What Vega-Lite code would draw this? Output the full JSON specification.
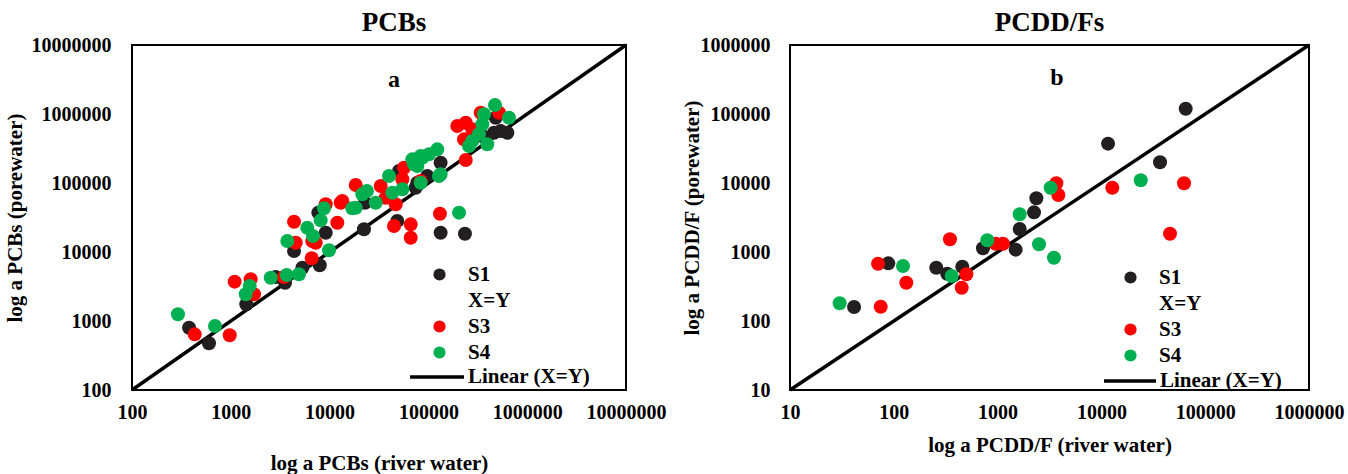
{
  "$schema": "https://vega.github.io/schema/vega-lite/v6.json",
  "background": "white",
  "padding": {"left": 3, "top": 8, "right": 0, "bottom": 0},
  "spacing": 13,
  "config": {
    "font": "Liberation Serif",
    "view": {"stroke": "black", "strokeWidth": 2},
    "axis": {"labelFont": "Liberation Serif", "labelFontWeight": "bold", "labelFontSize": 20, "labelColor": "black", "titleFont": "Liberation Serif", "titleFontWeight": "bold", "titleFontSize": 21, "titleColor": "black", "ticks": false, "domain": false, "grid": false, "labelFlush": false, "labelOverlap": false},
    "title": {"font": "Liberation Serif", "fontSize": 27, "fontWeight": "bold", "color": "black", "offset": -2},
    "legend": {"labelFont": "Liberation Serif", "labelFontSize": 21, "labelFontWeight": "bold", "labelColor": "black", "title": null}
  },
  "resolve": {"scale": {"color": "independent", "stroke": "independent"}, "legend": {"color": "independent", "stroke": "independent"}},
  "datasets": {
    "pcb": [
      {"x": 378, "y": 800, "s": "S1"}, {"x": 601, "y": 475, "s": "S1"}, {"x": 1435, "y": 1746, "s": "S1"}, {"x": 2844, "y": 4345, "s": "S1"}, {"x": 3540, "y": 3589, "s": "S1"}, {"x": 5300, "y": 5916, "s": "S1"}, {"x": 7943, "y": 6412, "s": "S1"}, {"x": 4365, "y": 10330, "s": "S1"}, {"x": 9140, "y": 19050, "s": "S1"}, {"x": 7690, "y": 37150, "s": "S1"}, {"x": 22280, "y": 21330, "s": "S1"}, {"x": 48420, "y": 28120, "s": "S1"}, {"x": 22800, "y": 51760, "s": "S1"}, {"x": 50350, "y": 149300, "s": "S1"}, {"x": 133000, "y": 196800, "s": "S1"}, {"x": 77270, "y": 100900, "s": "S1"}, {"x": 74300, "y": 85500, "s": "S1"}, {"x": 133000, "y": 19050, "s": "S1"}, {"x": 234400, "y": 18400, "s": "S1"}, {"x": 461300, "y": 535800, "s": "S1"}, {"x": 539500, "y": 567500, "s": "S1"}, {"x": 629500, "y": 535800, "s": "S1"}, {"x": 479700, "y": 883100, "s": "S1"}, {"x": 97500, "y": 126200, "s": "S1"}, {"x": 351600, "y": 479700, "s": "S1"},
      {"x": 431, "y": 641, "s": "S3"}, {"x": 975, "y": 621, "s": "S3"}, {"x": 1094, "y": 3715, "s": "S3"}, {"x": 1589, "y": 4018, "s": "S3"}, {"x": 1718, "y": 2438, "s": "S3"}, {"x": 3451, "y": 4345, "s": "S3"}, {"x": 6590, "y": 8110, "s": "S3"}, {"x": 4365, "y": 27480, "s": "S3"}, {"x": 4540, "y": 13650, "s": "S3"}, {"x": 7230, "y": 13650, "s": "S3"}, {"x": 6680, "y": 14430, "s": "S3"}, {"x": 9140, "y": 49100, "s": "S3"}, {"x": 11970, "y": 26600, "s": "S3"}, {"x": 12950, "y": 51760, "s": "S3"}, {"x": 13450, "y": 54800, "s": "S3"}, {"x": 18370, "y": 93550, "s": "S3"}, {"x": 32890, "y": 90550, "s": "S3"}, {"x": 36960, "y": 61240, "s": "S3"}, {"x": 46670, "y": 49100, "s": "S3"}, {"x": 56620, "y": 166700, "s": "S3"}, {"x": 44870, "y": 23820, "s": "S3"}, {"x": 66220, "y": 25180, "s": "S3"}, {"x": 66220, "y": 16110, "s": "S3"}, {"x": 130900, "y": 35890, "s": "S3"}, {"x": 54450, "y": 113200, "s": "S3"}, {"x": 83560, "y": 106900, "s": "S3"}, {"x": 196300, "y": 669900, "s": "S3"}, {"x": 238800, "y": 748200, "s": "S3"}, {"x": 229300, "y": 429500, "s": "S3"}, {"x": 338200, "y": 1045000, "s": "S3"}, {"x": 518800, "y": 1045000, "s": "S3"}, {"x": 238800, "y": 215300, "s": "S3"}, {"x": 278000, "y": 599800, "s": "S3"},
      {"x": 292, "y": 1250, "s": "S4"}, {"x": 692, "y": 847, "s": "S4"}, {"x": 1552, "y": 3215, "s": "S4"}, {"x": 1416, "y": 2438, "s": "S4"}, {"x": 2535, "y": 4245, "s": "S4"}, {"x": 3681, "y": 4645, "s": "S4"}, {"x": 4898, "y": 4753, "s": "S4"}, {"x": 9863, "y": 10590, "s": "S4"}, {"x": 3733, "y": 14430, "s": "S4"}, {"x": 5945, "y": 22490, "s": "S4"}, {"x": 6790, "y": 17060, "s": "S4"}, {"x": 8128, "y": 28770, "s": "S4"}, {"x": 8770, "y": 42950, "s": "S4"}, {"x": 16980, "y": 42950, "s": "S4"}, {"x": 21430, "y": 68550, "s": "S4"}, {"x": 18370, "y": 43850, "s": "S4"}, {"x": 29300, "y": 51760, "s": "S4"}, {"x": 23880, "y": 76560, "s": "S4"}, {"x": 39910, "y": 126200, "s": "S4"}, {"x": 43150, "y": 72270, "s": "S4"}, {"x": 68710, "y": 220300, "s": "S4"}, {"x": 77270, "y": 176200, "s": "S4"}, {"x": 83560, "y": 246000, "s": "S4"}, {"x": 101400, "y": 260600, "s": "S4"}, {"x": 123000, "y": 307600, "s": "S4"}, {"x": 133000, "y": 133600, "s": "S4"}, {"x": 83560, "y": 100900, "s": "S4"}, {"x": 54450, "y": 81100, "s": "S4"}, {"x": 71450, "y": 186600, "s": "S4"}, {"x": 86700, "y": 232800, "s": "S4"}, {"x": 127900, "y": 126200, "s": "S4"}, {"x": 204200, "y": 37150, "s": "S4"}, {"x": 472100, "y": 1349000, "s": "S4"}, {"x": 654600, "y": 883100, "s": "S4"}, {"x": 365600, "y": 990800, "s": "S4"}, {"x": 351600, "y": 709300, "s": "S4"}, {"x": 325100, "y": 508200, "s": "S4"}, {"x": 278000, "y": 406400, "s": "S4"}, {"x": 257600, "y": 343600, "s": "S4"}, {"x": 394500, "y": 363900, "s": "S4"}
    ],
    "pcdd": [
      {"x": 41.4, "y": 159.6, "s": "S1"}, {"x": 88.5, "y": 685, "s": "S1"}, {"x": 256.5, "y": 592, "s": "S1"}, {"x": 327, "y": 485, "s": "S1"}, {"x": 457, "y": 612, "s": "S1"}, {"x": 723, "y": 1132, "s": "S1"}, {"x": 1493, "y": 1082, "s": "S1"}, {"x": 1632, "y": 2153, "s": "S1"}, {"x": 2243, "y": 3758, "s": "S1"}, {"x": 2363, "y": 5998, "s": "S1"}, {"x": 11590, "y": 37150, "s": "S1"}, {"x": 36710, "y": 19950, "s": "S1"}, {"x": 64860, "y": 119400, "s": "S1"},
      {"x": 70.5, "y": 676, "s": "S3"}, {"x": 74.8, "y": 161, "s": "S3"}, {"x": 132, "y": 359, "s": "S3"}, {"x": 347.5, "y": 1527, "s": "S3"}, {"x": 500, "y": 475, "s": "S3"}, {"x": 451, "y": 304, "s": "S3"}, {"x": 959, "y": 1318, "s": "S3"}, {"x": 1128, "y": 1318, "s": "S3"}, {"x": 3681, "y": 9908, "s": "S3"}, {"x": 3848, "y": 6698, "s": "S3"}, {"x": 12740, "y": 8550, "s": "S3"}, {"x": 62520, "y": 9908, "s": "S3"}, {"x": 45810, "y": 1841, "s": "S3"},
      {"x": 30.1, "y": 180.7, "s": "S4"}, {"x": 122.7, "y": 627, "s": "S4"}, {"x": 361, "y": 449, "s": "S4"}, {"x": 796, "y": 1479, "s": "S4"}, {"x": 1632, "y": 3516, "s": "S4"}, {"x": 3243, "y": 8550, "s": "S4"}, {"x": 2506, "y": 1294, "s": "S4"}, {"x": 3491, "y": 826, "s": "S4"}, {"x": 23930, "y": 10940, "s": "S4"}
    ]
  },
  "hconcat": [
    {
      "width": 494,
      "height": 345,
      "title": {"text": "PCBs", "dx": 15},
      "encoding": {
        "x": {"field": "x", "type": "quantitative", "scale": {"type": "log", "domain": [100, 10000000], "nice": false}, "axis": {"values": [100, 1000, 10000, 100000, 1000000, 10000000], "format": "d", "labelPadding": 12, "title": "log a PCBs (river water)", "titlePadding": 30}},
        "y": {"field": "y", "type": "quantitative", "scale": {"type": "log", "domain": [100, 10000000], "nice": false}, "axis": {"values": [100, 1000, 10000, 100000, 1000000, 10000000], "format": "d", "labelPadding": 21, "title": "log a PCBs (porewater)", "titlePadding": 6}}
      },
      "layer": [
        {
          "data": {"values": [{"x": 100, "y": 100, "n": "Linear (X=Y)"}, {"x": 10000000, "y": 10000000, "n": "Linear (X=Y)"}]},
          "mark": {"type": "line", "strokeWidth": 3.5},
          "encoding": {"stroke": {"field": "n", "type": "nominal", "scale": {"range": ["black"]}, "legend": {"orient": "none", "legendX": 276, "legendY": 303, "symbolType": "stroke", "symbolSize": 2916, "symbolStrokeWidth": 3.5, "labelOffset": 2}}}
        },
        {
          "data": {"name": "pcb"},
          "mark": {"type": "circle", "size": 196, "opacity": 1},
          "encoding": {"color": {"field": "s", "type": "nominal", "scale": {"domain": ["S1", "X=Y", "S3", "S4"], "range": ["#231f20", "rgba(0,0,0,0)", "#ff0000", "#00b050"]}, "legend": {"orient": "none", "legendX": 297, "legendY": 219, "symbolType": "circle", "symbolSize": 150, "labelOffset": 18, "rowPadding": 4}}}
        },
        {
          "data": {"values": [{"x": 44870, "y": 3110000, "t": "a"}]},
          "mark": {"type": "text", "font": "Liberation Serif", "fontWeight": "bold", "fontSize": 24, "color": "black"},
          "encoding": {"text": {"field": "t"}}
        }
      ]
    },
    {
      "width": 519,
      "height": 345,
      "title": {"text": "PCDD/Fs"},
      "encoding": {
        "x": {"field": "x", "type": "quantitative", "scale": {"type": "log", "domain": [10, 1000000], "nice": false}, "axis": {"values": [10, 100, 1000, 10000, 100000, 1000000], "format": "d", "labelPadding": 12, "title": "log a PCDD/F  (river water)", "titlePadding": 12}},
        "y": {"field": "y", "type": "quantitative", "scale": {"type": "log", "domain": [10, 1000000], "nice": false}, "axis": {"values": [10, 100, 1000, 10000, 100000, 1000000], "format": "d", "labelPadding": 20, "title": "log a PCDD/F (porewater)", "titlePadding": -2}}
      },
      "layer": [
        {
          "data": {"values": [{"x": 10, "y": 10, "n": "Linear (X=Y)"}, {"x": 1000000, "y": 1000000, "n": "Linear (X=Y)"}]},
          "mark": {"type": "line", "strokeWidth": 3.5},
          "encoding": {"stroke": {"field": "n", "type": "nominal", "scale": {"range": ["black"]}, "legend": {"orient": "none", "legendX": 312, "legendY": 308, "symbolType": "stroke", "symbolSize": 2704, "symbolStrokeWidth": 3.5, "labelOffset": 2}}}
        },
        {
          "data": {"name": "pcdd"},
          "mark": {"type": "circle", "size": 196, "opacity": 1},
          "encoding": {"color": {"field": "s", "type": "nominal", "scale": {"domain": ["S1", "X=Y", "S3", "S4"], "range": ["#231f20", "rgba(0,0,0,0)", "#ff0000", "#00b050"]}, "legend": {"orient": "none", "legendX": 330, "legendY": 222, "symbolType": "circle", "symbolSize": 150, "labelOffset": 18, "rowPadding": 4}}}
        },
        {
          "data": {"values": [{"x": 3733, "y": 332600, "t": "b"}]},
          "mark": {"type": "text", "font": "Liberation Serif", "fontWeight": "bold", "fontSize": 24, "color": "black"},
          "encoding": {"text": {"field": "t"}}
        }
      ]
    }
  ]
}
